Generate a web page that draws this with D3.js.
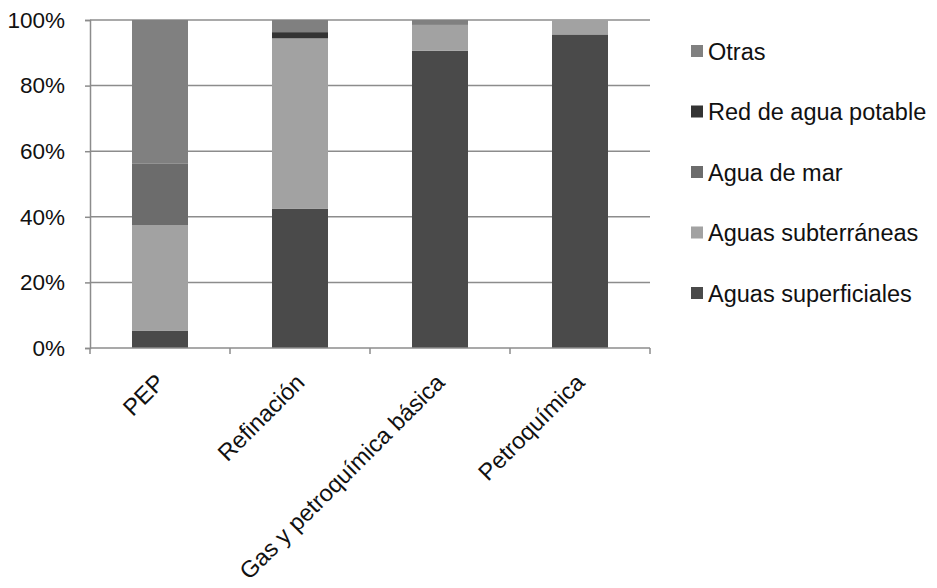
<!DOCTYPE html>
<html><head><meta charset="utf-8">
<script src="https://cdn.jsdelivr.net/npm/d3@7"></script>
<style>body{margin:0;background:#fff}svg{display:block}text{font-family:"Liberation Sans",Arial,sans-serif;fill:#111}</style>
</head><body><svg id="c" width="937" height="588"></svg>
<script>
const categories = ["PEP","Refinación","Gas y petroquímica básica","Petroquímica"];
const seriesNames = ["Aguas superficiales","Aguas subterráneas","Agua de mar","Red de agua potable","Otras"];
const superficiales = [5.2, 42.4, 90.6, 95.6];
const subterraneas  = [32.3, 52.0, 7.9, 4.4];
const aguaDeMar     = [18.8, 0, 0, 0];
const redPotable    = [0, 1.9, 0, 0];
const otras         = [43.7, 3.7, 1.5, 0];
const yTicks = [0,20,40,60,80,100];
const colors = ["#4a4a4a","#a2a2a2","#6c6c6c","#333333","#808080"];

(function(){
const seriesVals = [superficiales, subterraneas, aguaDeMar, redPotable, otras];
const rows = categories.map((c,i)=>{const r={cat:c}; seriesNames.forEach((s,j)=>r[s]=seriesVals[j][i]); return r;});
const stack = d3.stack().keys(seriesNames)(rows);

const svg = d3.select("#c");
const mLeft=90, mRight=650, mTop=20, mBottom=348;
const x = d3.scaleBand().domain(categories).range([mLeft,mRight]).paddingInner(0.6).paddingOuter(0.3);
const y = d3.scaleLinear().domain([0,100]).range([mBottom,mTop]);

svg.append("g").selectAll("line").data(yTicks.filter(t=>t>0)).join("line")
  .attr("x1",mLeft).attr("x2",mRight).attr("y1",d=>y(d)).attr("y2",d=>y(d))
  .attr("stroke","#8c8c8c").attr("stroke-width",1.5);

svg.append("g").selectAll("g").data(stack).join("g")
  .attr("fill",(d,i)=>colors[i])
  .selectAll("rect").data(d=>d).join("rect")
  .attr("x",d=>x(d.data.cat)).attr("width",x.bandwidth())
  .attr("y",d=>y(d[1])).attr("height",d=>y(d[0])-y(d[1]));

const ya = svg.append("g").attr("transform",`translate(${mLeft},0)`)
  .call(d3.axisLeft(y).tickValues(yTicks).tickFormat(d=>d+"%").tickSize(5).tickPadding(20));
ya.select(".domain").attr("stroke","#8c8c8c").attr("stroke-width",1.5);
ya.selectAll(".tick line").attr("stroke","#8c8c8c").attr("stroke-width",1.5);
ya.selectAll("text").attr("font-size",22.5).attr("fill","#111").attr("font-family","Liberation Sans, Arial, sans-serif");

svg.append("line").attr("x1",mLeft).attr("x2",mRight).attr("y1",mBottom).attr("y2",mBottom)
  .attr("stroke","#8c8c8c").attr("stroke-width",1.5);
const edges = categories.map(c=>x(c)-x.step()*x.paddingInner()/2).concat([mRight]);
svg.append("g").selectAll("line").data(edges).join("line")
  .attr("x1",d=>d).attr("x2",d=>d).attr("y1",mBottom).attr("y2",mBottom+6)
  .attr("stroke","#8c8c8c").attr("stroke-width",1.5);
svg.append("g").selectAll("text").data(categories).join("text")
  .attr("transform",d=>`translate(${x(d)+x.bandwidth()/2+6},${mBottom+36}) rotate(-45)`)
  .attr("text-anchor","end").attr("font-size",23.5).text(d=>d);

const legOrder = seriesNames.map((s,i)=>i).reverse();
const lg = svg.append("g").selectAll("g").data(legOrder).join("g")
  .attr("transform",(d,i)=>`translate(691,${51+i*60.5})`);
lg.append("rect").attr("x",0).attr("y",-6).attr("width",12).attr("height",12).attr("fill",d=>colors[d]);
lg.append("text").attr("x",17).attr("y",8.5).attr("font-size",23.5).text(d=>seriesNames[d]);
})();
</script></body></html>
